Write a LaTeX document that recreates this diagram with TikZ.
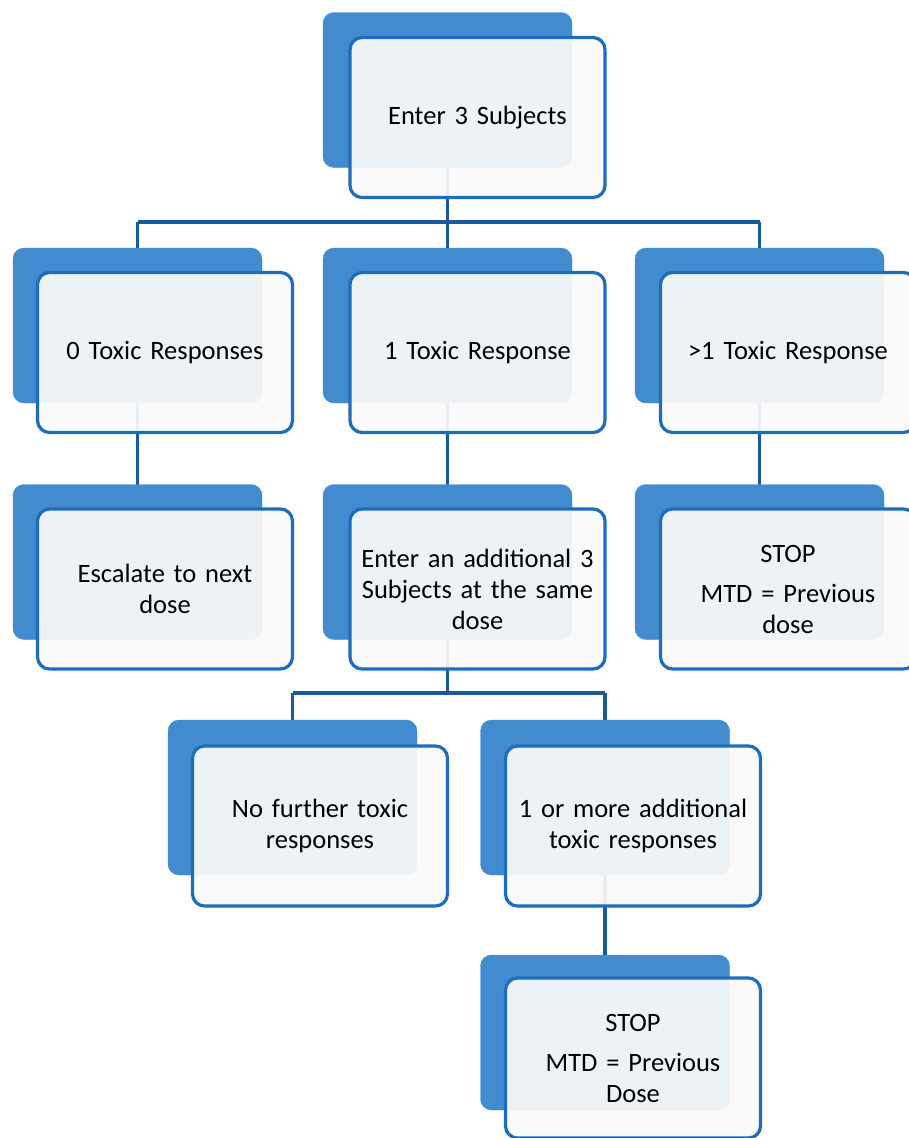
\documentclass[tikz,border=0pt]{standalone}
\usepackage{fontspec}
\setmainfont{Carlito}[WordSpace=0.75]
\usetikzlibrary{backgrounds}

\definecolor{backblue}{RGB}{66,139,206}
\definecolor{edgeblue}{RGB}{30,108,188}
\definecolor{linkblue}{RGB}{28,88,156}
\definecolor{paper}{RGB}{250,250,250}

\tikzset{
  backbox/.style={fill=backblue, draw=backblue, rounded corners=11pt,
    minimum width=249pt, minimum height=155pt, inner sep=0pt},
  frontbox/.style={fill=paper, fill opacity=0.93, text opacity=1,
    draw=edgeblue, line width=3.2pt, rounded corners=12pt,
    minimum width=255pt, minimum height=160pt, inner sep=0pt,
    text width=236pt, align=center,
    font=\fontsize{26.5}{31}\selectfont},
  link/.style={draw=linkblue, line width=3.2pt}
}

\begin{document}
\begin{tikzpicture}[x=1pt,y=-1pt]
\useasboundingbox (0,0) rectangle (908,1138);

% back plates
\node[backbox] (enterB) at (447.5,90) {};
\node[backbox] (zeroB)  at (137.5,325.5) {};
\node[backbox] (oneB)   at (447.5,325.5) {};
\node[backbox] (moreB)  at (759.5,325.5) {};
\node[backbox] (escB)   at (137.5,562) {};
\node[backbox] (addB)   at (447.5,562) {};
\node[backbox] (stopB)  at (759.5,562) {};
\node[backbox] (noneB)  at (292.5,797.5) {};
\node[backbox] (someB)  at (605,797.5) {};
\node[backbox] (endB)   at (605,1032.5) {};

% front cards
\node[frontbox] (enter) at (477.5,117.5) {Enter 3 Subjects};
\node[frontbox] (zero)  at (165,352.5) {0 Toxic Responses};
\node[frontbox] (one)   at (477.5,352.5) {1 Toxic Response};
\node[frontbox] (more)  at (788,352.5) {>1 Toxic Response};
\node[frontbox] (esc)   at (165,589) {Escalate to next\\dose};
\node[frontbox] (add)   at (477.5,589) {Enter an additional 3\\Subjects at the same\\dose};
\node[frontbox] (stop)  at (788,589) {STOP\\[9pt]MTD = Previous\\dose};
\node[frontbox] (none)  at (320,826) {No further toxic\\responses};
\node[frontbox] (some)  at (633,826) {1 or more additional\\toxic responses};
\node[frontbox] (end)   at (633,1058) {STOP\\[9pt]MTD = Previous\\Dose};

% connectors
\begin{scope}[on background layer]
\coordinate (split1) at (447.5,222);
\coordinate (split2) at (447.5,693);
\draw[link] (enterB.center) -- (split1);
\draw[link] (zeroB.center |- split1) -- (moreB.center |- split1);
\draw[link] (zeroB.center |- split1) -- (zeroB.center);
\draw[link] (oneB.center |- split1) -- (oneB.center);
\draw[link] (moreB.center |- split1) -- (moreB.center);
\draw[link] (zeroB.center) -- (escB.center);
\draw[link] (oneB.center) -- (addB.center);
\draw[link] (moreB.center) -- (stopB.center);
\draw[link] (addB.center) -- (split2);
\draw[link] (noneB.center |- split2) -- (someB.center |- split2);
\draw[link] (noneB.center |- split2) -- (noneB.center);
\draw[link] (someB.center |- split2) -- (someB.center);
\draw[link] (someB.center) -- (endB.center);
\end{scope}
\end{tikzpicture}
\end{document}
